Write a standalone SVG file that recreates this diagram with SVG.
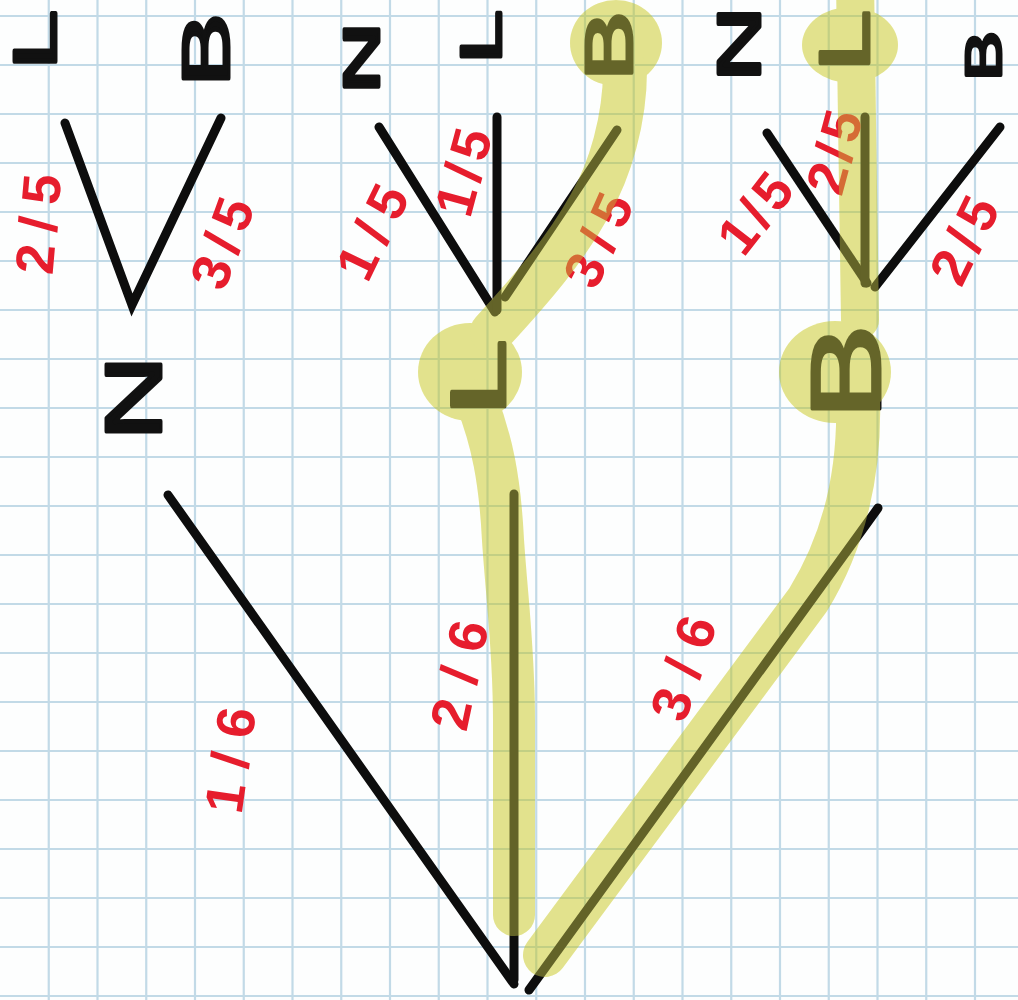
<svg xmlns="http://www.w3.org/2000/svg" width="1018" height="1000" viewBox="0 0 1018 1000">
<style>
.grid{stroke:#c2dae7;stroke-width:2.2;fill:none}
.br{stroke:#0d0d0d;stroke-width:9;stroke-linecap:round;fill:none}
.ltr{font-family:"Liberation Sans",Arial,sans-serif;font-weight:normal;fill:#111;stroke:#111;stroke-width:3;stroke-linejoin:round;text-anchor:middle;dominant-baseline:central}
.lbl{font-family:"Liberation Sans",Arial,sans-serif;font-weight:bold;font-size:54px;fill:#e61d2d;text-anchor:middle;dominant-baseline:central}
.hp{stroke-linecap:round;stroke-linejoin:round}
</style>
<defs>
<g id="hlE">
<ellipse cx="616" cy="43" rx="46" ry="43"/>
<ellipse cx="470" cy="372" rx="52" ry="49"/>
<ellipse cx="850" cy="45" rx="48" ry="38"/>
<ellipse cx="835" cy="372" rx="56" ry="51"/>
</g>
<g id="hlP">
<path class="hp" stroke-width="44" d="M625,70 C625,120 610,170 590,205 C565,250 535,285 492,332"/>
<path class="hp" stroke-width="42" d="M476,400 C492,440 500,480 503,540 C507,600 514,650 514,720 L514,915"/>
<path class="hp" stroke-width="38" d="M855,-20 L857,120 L860,320"/>
<path class="hp" stroke-width="44" d="M858,400 C860,470 845,540 808,600 L545,955"/>
</g>
</defs>
<rect width="1018" height="1000" fill="#fdfefe"/>
<path class="grid" d="M48.75 0V1000M97.5 0V1000M146.25 0V1000M195 0V1000M243.75 0V1000M292.5 0V1000M341.25 0V1000M390 0V1000M438.75 0V1000M487.5 0V1000M536.25 0V1000M585 0V1000M633.75 0V1000M682.5 0V1000M731.25 0V1000M780 0V1000M828.75 0V1000M877.5 0V1000M926.25 0V1000M975 0V1000M0 16H1018M0 65H1018M0 114H1018M0 163H1018M0 212H1018M0 261H1018M0 310H1018M0 359H1018M0 408H1018M0 457H1018M0 506H1018M0 555H1018M0 604H1018M0 653H1018M0 702H1018M0 751H1018M0 800H1018M0 849H1018M0 898H1018M0 947H1018M0 996H1018"/>
<g id="connectors">
<path class="br" d="M65,123 L132,305 L221,118"/>
<path class="br" d="M379,127 L495,312"/>
<path class="br" d="M497,117 L497,310"/>
<path class="br" d="M505,297 L617,130"/>
<path class="br" d="M767,133 L867,283"/>
<path class="br" d="M865,117 L865,283"/>
<path class="br" d="M875,287 L1000,127"/>
<path class="br" d="M168,495 L514,984"/>
<path class="br" d="M514,494 L514,980"/>
<path class="br" d="M878,508 L529,990"/>
</g>
<g id="edge-labels">
<text class="lbl" transform="translate(38,224) rotate(-85)" textLength="100" lengthAdjust="spacing">2/5</text>
<text class="lbl" transform="translate(222,243) rotate(-70)" textLength="92" lengthAdjust="spacing">3/5</text>
<text class="lbl" transform="translate(372,232) rotate(-64)" textLength="98" lengthAdjust="spacing">1/5</text>
<text class="lbl" transform="translate(463,172) rotate(-75)" textLength="88" lengthAdjust="spacing">1/5</text>
<text class="lbl" transform="translate(598,240) rotate(-66)" textLength="96" lengthAdjust="spacing">3/5</text>
<text class="lbl" transform="translate(755,213) rotate(-52)" textLength="86" lengthAdjust="spacing">1/5</text>
<text class="lbl" transform="translate(834,152) rotate(-75)" textLength="84" lengthAdjust="spacing">2/5</text>
<text class="lbl" transform="translate(964,240) rotate(-64)" textLength="90" lengthAdjust="spacing">2/5</text>
<text class="lbl" transform="translate(230,760) rotate(-82)" textLength="106" lengthAdjust="spacing">1/6</text>
<text class="lbl" transform="translate(459,675) rotate(-78)" textLength="110" lengthAdjust="spacing">2/6</text>
<text class="lbl" transform="translate(683,668) rotate(-72)" textLength="106" lengthAdjust="spacing">3/6</text>
</g>
<g id="n-L1"><text class="ltr" transform="translate(34,40) rotate(-90)" font-size="62" textLength="60" lengthAdjust="spacingAndGlyphs">L</text></g>
<g id="n-B1"><text class="ltr" transform="translate(206,50) rotate(-90)" font-size="66" textLength="74" lengthAdjust="spacingAndGlyphs">B</text></g>
<g id="n-N2"><text class="ltr" transform="translate(362,58) rotate(-90)" font-size="50" textLength="72" lengthAdjust="spacingAndGlyphs">N</text></g>
<g id="n-L2"><text class="ltr" transform="translate(480,37) rotate(-90)" font-size="58" textLength="54" lengthAdjust="spacingAndGlyphs">L</text></g>
<g id="n-B2"><text class="ltr" transform="translate(609,46) rotate(-90)" font-size="66" textLength="70" lengthAdjust="spacingAndGlyphs">B</text></g>
<g id="n-N3"><text class="ltr" transform="translate(738,44) rotate(-90)" font-size="62" textLength="76" lengthAdjust="spacingAndGlyphs">N</text></g>
<g id="n-L3"><text class="ltr" transform="translate(845,41) rotate(-90)" font-size="70" textLength="62" lengthAdjust="spacingAndGlyphs">L</text></g>
<g id="n-B3"><text class="ltr" transform="translate(984,56) rotate(-90)" font-size="50" textLength="50" lengthAdjust="spacingAndGlyphs">B</text></g>
<g id="n-N4"><text class="ltr" transform="translate(133,398) rotate(-90)" font-size="80" textLength="86" lengthAdjust="spacingAndGlyphs">N</text></g>
<g id="n-L4"><text class="ltr" transform="translate(478,378) rotate(-90)" font-size="78" textLength="78" lengthAdjust="spacingAndGlyphs">L</text></g>
<g id="n-B4"><text class="ltr" transform="translate(846,372) rotate(-90)" font-size="98" textLength="96" lengthAdjust="spacingAndGlyphs">B</text></g>
<g id="highlight">
<g opacity="0.47"><use href="#hlE" fill="#c4c45a"/><use href="#hlP" fill="none" stroke="#c4c45a"/></g>
<g style="mix-blend-mode:multiply"><use href="#hlE" fill="#ffffcd"/><use href="#hlP" fill="none" stroke="#ffffcd"/></g>
</g>
</svg>
